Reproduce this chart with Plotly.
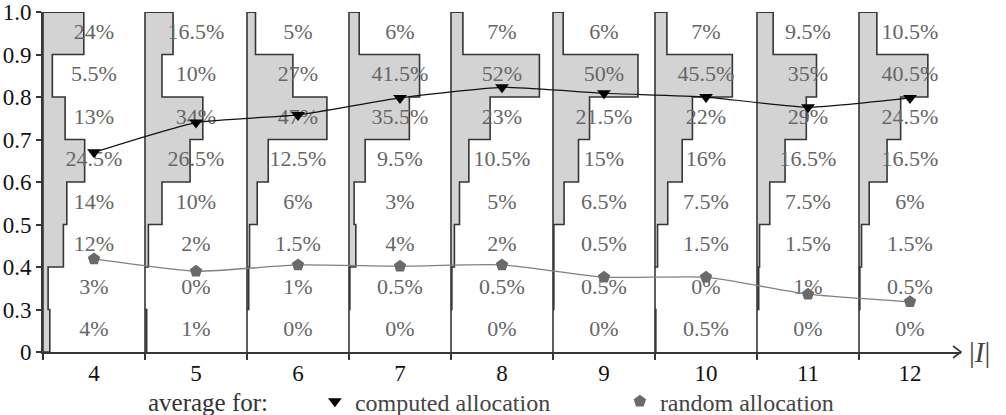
import plotly.graph_objects as go

# ---------------- data ----------------
groups = ["4", "5", "6", "7", "8", "9", "10", "11", "12"]
bin_labels = ["0", "0.3", "0.4", "0.5", "0.6", "0.7", "0.8", "0.9", "1.0"]
bin_values = [0.0, 0.3, 0.4, 0.5, 0.6, 0.7, 0.8, 0.9, 1.0]

# share of instances per bin (bottom bin 0-0.3 first, top bin 0.9-1.0 last), in %
hist_4 = [4, 3, 12, 14, 24.5, 13, 5.5, 24]
hist_5 = [1, 0, 2, 10, 26.5, 34, 10, 16.5]
hist_6 = [0, 1, 1.5, 6, 12.5, 47, 27, 5]
hist_7 = [0, 0.5, 4, 3, 9.5, 35.5, 41.5, 6]
hist_8 = [0, 0.5, 2, 5, 10.5, 23, 52, 7]
hist_9 = [0, 0.5, 0.5, 6.5, 15, 21.5, 50, 6]
hist_10 = [0.5, 0, 1.5, 7.5, 16, 22, 45.5, 7]
hist_11 = [0, 1, 1.5, 7.5, 16.5, 29, 35, 9.5]
hist_12 = [0, 0.5, 1.5, 6, 16.5, 24.5, 40.5, 10.5]
hists = [hist_4, hist_5, hist_6, hist_7, hist_8, hist_9, hist_10, hist_11, hist_12]

avg_computed = [0.67, 0.74, 0.758, 0.798, 0.823, 0.809, 0.80, 0.776, 0.798]
avg_random = [0.419, 0.39, 0.405, 0.402, 0.405, 0.376, 0.376, 0.336, 0.318]

# ---------------- helpers (axis mapping) ----------------
GW = 60  # width of one group slot, in % units
SERIF = "Liberation Serif, Times New Roman, serif"
NB = len(bin_values) - 1


def ypos(v):
    # bins are drawn with equal height: 0-0.3 is the first bin, then 0.1 steps
    for k in range(NB):
        lo, hi = bin_values[k], bin_values[k + 1]
        if v <= hi or k == NB - 1:
            return k + (v - lo) / (hi - lo)
    return NB


fig = go.Figure()

# histograms as step outlines
for i, h in enumerate(hists):
    b = i * GW
    xs, ys = [b], [0]
    for k, p in enumerate(h):
        xs += [b + p, b + p]
        ys += [k, k + 1]
    xs += [b, b]
    ys += [len(h), 0]
    fig.add_trace(go.Scatter(
        x=xs, y=ys, mode="lines", fill="toself",
        fillcolor="#d3d3d3", line=dict(color="#363636", width=1.6),
        showlegend=False, hoverinfo="skip", cliponaxis=False))

# percentage labels
lx, ly, lt = [], [], []
for i, h in enumerate(hists):
    for k, p in enumerate(h):
        lx.append(i * GW + GW / 2)
        ly.append(k + 0.5)
        lt.append(f"{p:g}%")
fig.add_trace(go.Scatter(
    x=lx, y=ly, text=lt, mode="text",
    textfont=dict(family=SERIF, size=22, color="#666666"),
    showlegend=False, hoverinfo="skip"))

centers = [i * GW + GW / 2 for i in range(len(groups))]

fig.add_trace(go.Scatter(
    x=centers, y=[ypos(v) for v in avg_random], mode="lines+markers",
    line=dict(color="#808080", width=1.3, shape="spline", smoothing=0.5),
    marker=dict(symbol="pentagon", size=13, color="#6a6a6a"),
    showlegend=False))
fig.add_trace(go.Scatter(
    x=centers, y=[ypos(v) for v in avg_computed], mode="lines+markers",
    line=dict(color="#111111", width=1.2, shape="spline", smoothing=0.5),
    marker=dict(symbol="triangle-down", size=12, color="#000000"),
    showlegend=False))

# legend entries
fig.add_trace(go.Scatter(
    x=[None], y=[None], mode="markers", name="computed allocation",
    marker=dict(symbol="triangle-down", size=12, color="#000000")))
fig.add_trace(go.Scatter(
    x=[None], y=[None], mode="markers", name="random allocation",
    marker=dict(symbol="pentagon", size=13, color="#6a6a6a")))

fig.update_layout(
    width=1006, height=415,
    margin=dict(l=43, r=45, t=12, b=63, autoexpand=False),
    paper_bgcolor="white", plot_bgcolor="white",
    font=dict(family=SERIF, color="#111111"),
    legend=dict(
        orientation="h", xref="container", yref="container",
        x=0.313, y=0.032, xanchor="left", yanchor="middle",
        font=dict(family=SERIF, size=24, color="#444444"),
        entrywidth=260, entrywidthmode="pixels",
        bgcolor="rgba(0,0,0,0)", tracegroupgap=0),
    xaxis=dict(
        range=[0, GW * len(groups)],
        tickvals=centers, ticktext=groups, ticks="",
        tickfont=dict(family=SERIF, size=23, color="#111111"),
        showline=True, linecolor="#363636", linewidth=1.6,
        showgrid=False, zeroline=False,
        minor=dict(tickvals=[i * GW for i in range(len(groups))],
                   ticks="outside", ticklen=6, tickwidth=1.5,
                   tickcolor="#363636", showgrid=False),
        ticklabelstandoff=0, automargin=False),
    yaxis=dict(
        range=[0, NB + 0.002],
        tickvals=list(range(NB + 1)), ticktext=bin_labels,
        ticks="outside", ticklen=5, tickwidth=1.5, tickcolor="#363636",
        tickfont=dict(family=SERIF, size=23, color="#111111"),
        ticklabeloverflow="allow",
        showline=True, linecolor="#363636", linewidth=1.6,
        showgrid=False, zeroline=False, automargin=False),
)

# arrow head on x axis
fig.add_shape(type="path", xref="paper", yref="paper",
              xsizemode="pixel", ysizemode="pixel", xanchor=1, yanchor=0,
              path="M -8,6 L 0,0 L -8,-6",
              line=dict(color="#363636", width=1.6))

fig.add_annotation(xref="paper", yref="paper", x=1, y=0, xshift=6,
                   xanchor="left", yanchor="middle", showarrow=False,
                   text="|<i>I</i>|",
                   font=dict(family=SERIF, size=29, color="#444444"))
fig.add_annotation(xref="paper", yref="paper", x=(146 - 43) / 918, y=0,
                   yshift=-50, xanchor="left", yanchor="middle",
                   showarrow=False, text="average for:",
                   font=dict(family=SERIF, size=25, color="#333333"))

fig.write_html("out.html")
